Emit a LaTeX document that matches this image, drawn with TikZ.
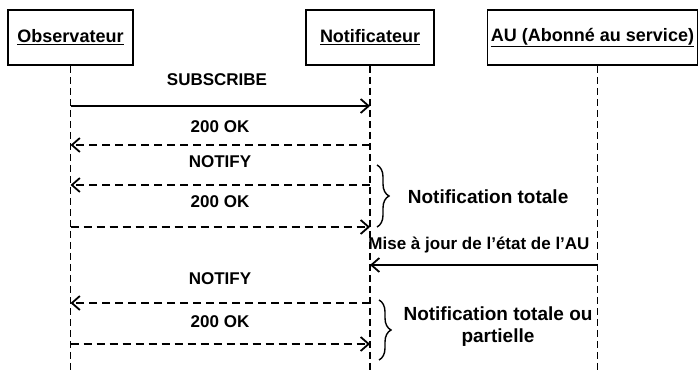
\documentclass[tikz,border=0pt]{standalone}
\usepackage{fontspec}
\setmainfont{Liberation Sans}
\usetikzlibrary{arrows.meta,decorations.pathreplacing,positioning}

\begin{document}
\begin{tikzpicture}[x=1pt,y=-1pt,line width=1.8pt,
  actor/.style={draw,minimum height=55pt,font=\fontsize{18}{21}\selectfont\bfseries},
  life/.style={dash pattern=on 7pt off 4pt},
  msg/.style={-{Straight Barb[length=8pt,width=14pt]}},
  reply/.style={msg,dash pattern=on 8pt off 5pt},
  lbl/.style={font=\fontsize{17}{20}\selectfont\bfseries,inner sep=0pt},
  note/.style={font=\fontsize{19}{22}\selectfont\bfseries,inner sep=0pt,align=center},
  brace/.style={decorate,decoration={brace,amplitude=12pt}}]
\useasboundingbox (0,0) rectangle (700,371);
% participants
\node[actor,minimum width=125pt] (obs) at (70.5,37.5) {\underline{Observateur}};
\node[actor,minimum width=128pt] (notif) at (370,37.5) {\underline{Notificateur}};
\node[actor,minimum width=210pt] (au) at (592.5,37.5) {\underline{AU (Abonné au service)}};
% lifelines
\coordinate (austart) at ([xshift=5pt]au.south);
\coordinate (obsend) at (obs.south |- 0,371);
\coordinate (notifend) at (notif.south |- 0,371);
\coordinate (auend) at (austart |- 0,371);
\draw[life] (obs.south) -- (obsend);
\draw[life] (notif.south) -- (notifend);
\draw[life] (austart) -- (auend);
% message levels
\foreach \n/\y in {1/106,2/145,3/185,4/227,5/265,6/303,7/344} {
  \coordinate (o\n) at (obs.south |- 0,\y);
  \coordinate (n\n) at (notif.south |- 0,\y);
  \coordinate (a\n) at (austart |- 0,\y);
}
% messages
\node[lbl] (subscribe) at (217,80) {SUBSCRIBE};
\draw[msg] (o1) -- (n1);
\node[lbl] (ok1) at (220,127) {200 OK};
\draw[reply] (n2) -- (o2);
\node[lbl] (notify1) at (220,162) {NOTIFY};
\draw[reply] (n3) -- (o3);
\node[lbl] (ok2) at (220,202) {200 OK};
\draw[reply] (o4) -- (n4);
\node[lbl] (maj) at (479,245) {Mise à jour de l'état de l'AU};
\draw[msg] (a5) -- (n5);
\node[lbl] (notify2) at (220,279) {NOTIFY};
\draw[reply] (n6) -- (o6);
\node[lbl] (ok3) at (220,322) {200 OK};
\draw[reply] (o7) -- (n7);
% braces
\coordinate (b1top) at (377,165);
\coordinate (b1bot) at (377,227);
\draw[brace,line width=1.4pt] (b1top) -- (b1bot);
\node[note,anchor=west] (totale) at (407,197) {Notification totale};
\coordinate (b2top) at (379,300);
\coordinate (b2bot) at (379,360);
\draw[brace,line width=1.4pt] (b2top) -- (b2bot);
\node[note] (partielle) at (498,327) {Notification totale ou\\partielle};
\end{tikzpicture}
\end{document}
